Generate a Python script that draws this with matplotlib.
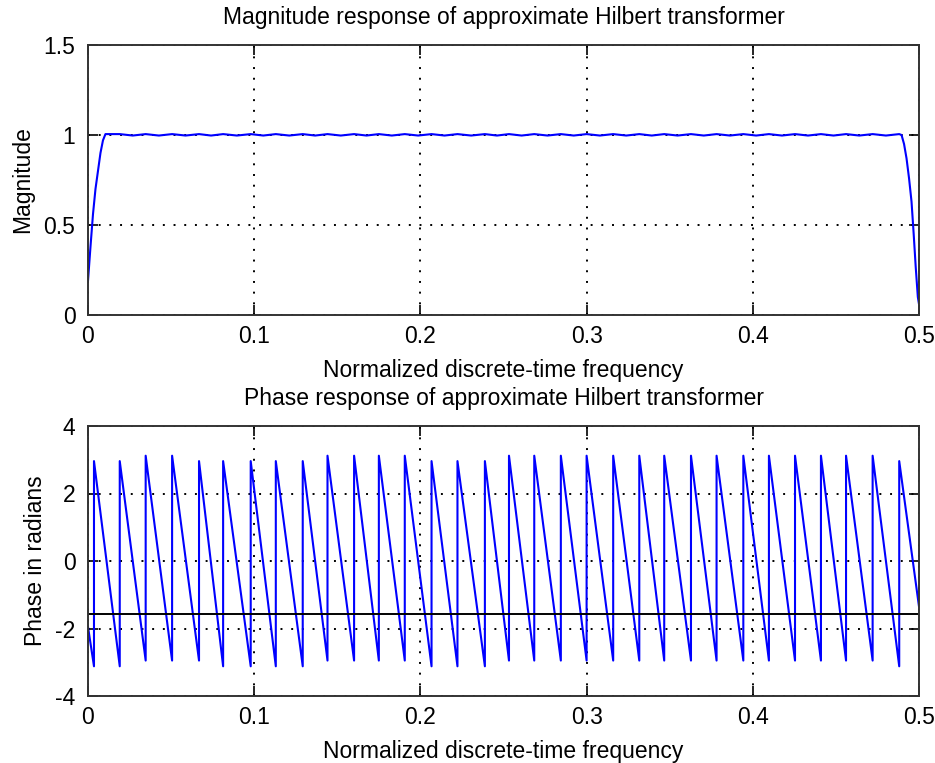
import numpy as np
import matplotlib
matplotlib.use("Agg")
import matplotlib.pyplot as plt

plt.rcParams['font.family'] = ['Liberation Sans', 'DejaVu Sans']
plt.rcParams['axes.unicode_minus'] = False

# ---------------- data ----------------
# Magnitude: rising edge, ripple bumps, falling edge
mag_rise_f = [0.0, 0.0015, 0.0030, 0.0045, 0.0060, 0.0075, 0.0090, 0.0105]
mag_rise_v = [0.19, 0.38, 0.56, 0.70, 0.80, 0.90, 0.97, 1.005]
mag_fall_f = [0.4895, 0.4910, 0.4925, 0.4940, 0.4955, 0.4968, 0.4980, 0.4993, 0.5]
mag_fall_v = [1.0, 0.95, 0.87, 0.76, 0.63, 0.45, 0.27, 0.10, 0.06]
ripple_bump_f = [0.0191, 0.0347, 0.0506, 0.0668, 0.0813, 0.0979, 0.1130, 0.1292,
                 0.1441, 0.1601, 0.1750, 0.1906, 0.2067, 0.2223, 0.2388, 0.2533,
                 0.2685, 0.2845, 0.3000, 0.3160, 0.3317, 0.3467, 0.3628, 0.3782,
                 0.3943, 0.4097, 0.4254, 0.4410, 0.4561, 0.4721, 0.4881]
ripple_high = 1.005
ripple_low = 0.997

# Phase: wrap points (frequency of each jump), value just before and after
phase_start_f = 0.0
phase_start_v = -1.95
phase_end_f = 0.5
phase_end_v = -1.35
jump_f = [0.0036, 0.0191, 0.0347, 0.0506, 0.0668, 0.0813, 0.0979, 0.1130,
          0.1292, 0.1441, 0.1601, 0.1750, 0.1906, 0.2067, 0.2223, 0.2388,
          0.2533, 0.2685, 0.2845, 0.3000, 0.3160, 0.3317, 0.3467, 0.3628,
          0.3782, 0.3943, 0.4097, 0.4254, 0.4410, 0.4561, 0.4721, 0.4881]
trough_v = [-3.12, -3.12, -2.95, -2.95, -2.95, -3.12, -3.12, -3.12,
            -3.12, -2.95, -2.95, -2.95, -2.95, -3.12, -3.12, -3.12,
            -2.95, -2.95, -2.95, -2.95, -2.95, -2.95, -2.95, -2.95,
            -2.95, -2.95, -2.95, -2.95, -2.95, -2.95, -2.95, -3.12]
peak_v = [2.96, 2.96, 3.12, 3.12, 2.96, 2.96, 2.96, 2.96,
          2.96, 3.12, 3.12, 3.12, 3.12, 2.96, 2.96, 2.96,
          3.12, 3.12, 3.12, 3.12, 3.12, 3.12, 3.12, 3.12,
          3.12, 3.12, 3.12, 3.12, 3.12, 3.12, 3.12, 2.96]
ref_phase = -np.pi / 2

mag_xticks = [0, 0.1, 0.2, 0.3, 0.4, 0.5]
mag_yticks = [0, 0.5, 1, 1.5]
mag_yticklabels = ['0', '0.5', '1', '1.5']
ph_yticks = [-4, -2, 0, 2, 4]
xticklabels = ['0', '0.1', '0.2', '0.3', '0.4', '0.5']

# ---------------- build line data ----------------
mag_f = list(mag_rise_f)
mag_v = list(mag_rise_v)
for i, f in enumerate(ripple_bump_f):
    mag_f.append(f)
    mag_v.append(ripple_high)
    if i + 1 < len(ripple_bump_f):
        mag_f.append((f + ripple_bump_f[i + 1]) / 2)
        mag_v.append(ripple_low)
mag_f += mag_fall_f
mag_v += mag_fall_v

ph_f = [phase_start_f]
ph_v = [phase_start_v]
for f, lo, hi in zip(jump_f, trough_v, peak_v):
    ph_f += [f, f]
    ph_v += [lo, hi]
ph_f.append(phase_end_f)
ph_v.append(phase_end_v)

# ---------------- figure ----------------
fig = plt.figure(figsize=(9.35, 7.63), dpi=100)
W, H = 935, 763
ax1 = fig.add_axes([88 / W, 1 - 315 / H, 831 / W, 270 / H])
ax2 = fig.add_axes([88 / W, 1 - 696 / H, 831 / W, 270 / H])

FS = 16.5
grid_kw = dict(color='black', linestyle=(0, (1, 4.5)), linewidth=1.4)

for ax in (ax1, ax2):
    ax.set_xlim(0, 0.5)
    ax.set_xticks(mag_xticks)
    ax.set_xticklabels(xticklabels)
    ax.grid(True, **grid_kw)
    ax.tick_params(direction='in', length=7, width=1.2, top=True, right=True,
                   labelsize=FS, colors='black')
    ax.tick_params(axis='x', pad=7)
    ax.tick_params(axis='y', pad=9)
    for sp in ax.spines.values():
        sp.set_linewidth(1.4)
        sp.set_color('#333333')
    ax.set_xlabel('Normalized discrete-time frequency', fontsize=FS, labelpad=8)

ax1.plot(mag_f, mag_v, color='#0000ff', linewidth=1.5)
ax1.set_ylim(0, 1.5)
ax1.set_yticks(mag_yticks)
ax1.set_yticklabels(mag_yticklabels)
ax1.set_ylabel('Magnitude', fontsize=FS, labelpad=7)
ax1.set_title('Magnitude response of approximate Hilbert transformer', fontsize=FS, pad=15)

ax2.plot(ph_f, ph_v, color='#0000ff', linewidth=1.5)
ax2.axhline(ref_phase, color='black', linewidth=1.4)
ax2.set_ylim(-4, 4)
ax2.set_yticks(ph_yticks)
ax2.set_ylabel('Phase in radians', fontsize=FS, labelpad=6)
ax2.set_title('Phase response of approximate Hilbert transformer', fontsize=FS, pad=15)

fig.savefig('out.png', dpi=100)
